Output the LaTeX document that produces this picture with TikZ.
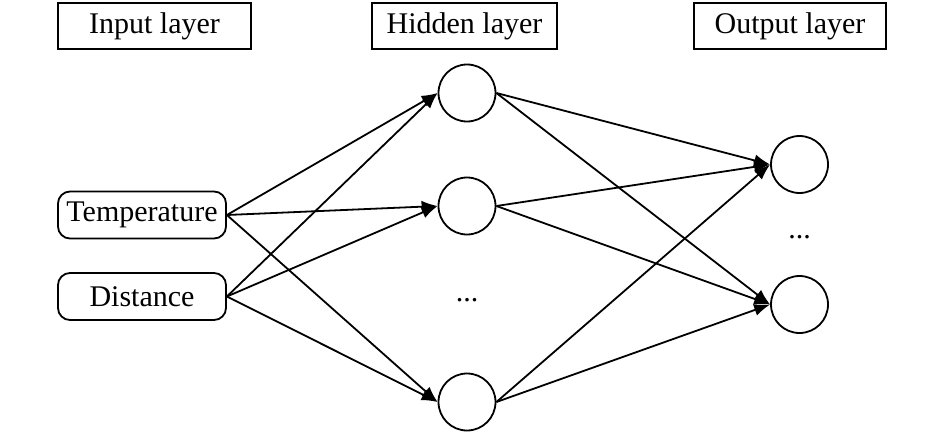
\documentclass[tikz,border=0pt]{standalone}
\usepackage{fontspec}
\setmainfont{Liberation Serif}
\usetikzlibrary{arrows.meta}
\begin{document}
\begin{tikzpicture}[x=0.5pt,y=-0.5pt,
 every node/.style={font=\fontsize{15}{18}\selectfont, inner sep=0pt},
 layerbox/.style={draw, line width=0.9pt, minimum height=23pt},
 inbox/.style={draw, rounded corners=6pt, line width=0.9pt, minimum width=84pt, minimum height=23.5pt},
 neuron/.style={draw, circle, line width=0.9pt, minimum size=28.5pt},
 conn/.style={line width=0.9pt, -{Latex[length=8pt,width=6pt]}}]
\useasboundingbox (0,0) rectangle (945,433);
\node[layerbox, minimum width=96.5pt] (il) at (154.5,26) {Input layer};
\node[layerbox, minimum width=92.5pt] (hl) at (464.5,26) {Hidden layer};
\node[layerbox, minimum width=96pt] (ol) at (790,26) {Output layer};
\node[inbox] (t) at (142,215) {Temperature};
\node[inbox] (d) at (142,296.5) {Distance};
\node[neuron] (h1) at (467,93) {};
\node[neuron] (h2) at (467,206) {};
\node[neuron] (h3) at (467,402) {};
\node (hd) at (467,300) {...};
\node[neuron] (o1) at (799.5,164.5) {};
\node[neuron] (o2) at (799.5,304.5) {};
\node (od) at (799.5,237) {...};
\foreach \s in {t,d}{\foreach \h in {h1,h2,h3}{\draw[conn] (\s.east) -- (\h.west);}}
\foreach \h in {h1,h2,h3}{\foreach \o in {o1,o2}{\draw[conn] (\h.east) -- (\o.west);}}
\end{tikzpicture}
\end{document}
